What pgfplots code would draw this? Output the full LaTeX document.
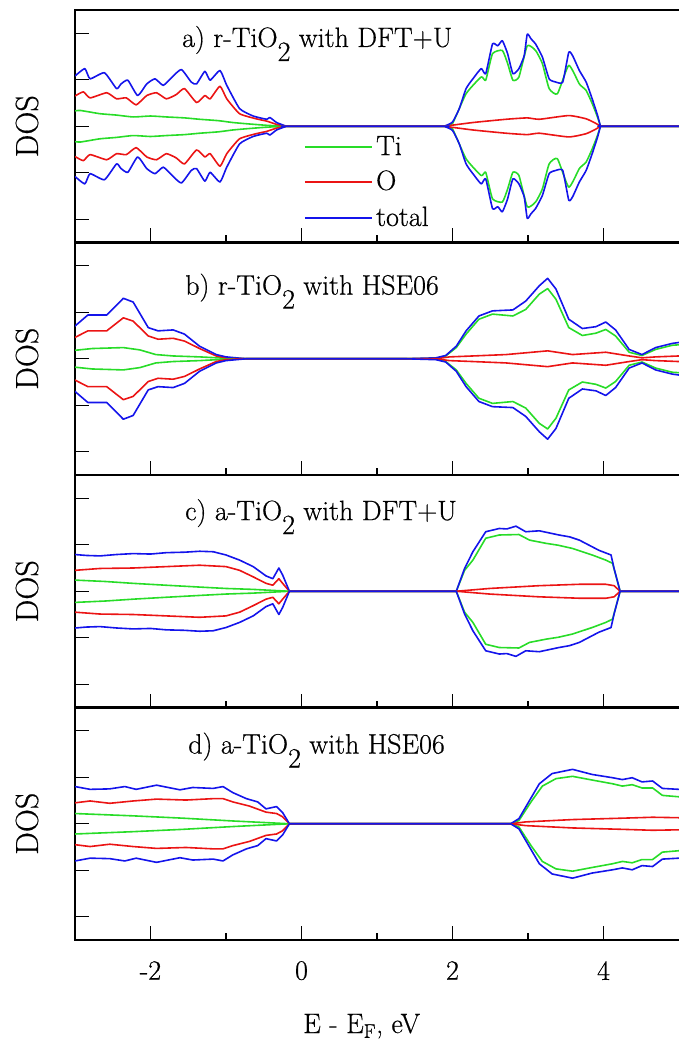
\documentclass[border=0pt]{standalone}
\usepackage{pgfplots}
\pgfplotsset{compat=1.18}
\usepackage{pgfplotstable}
\usepackage{fontspec}
\newfontfamily\lmr{lmroman17-regular.otf}[FakeBold=0.5]
\definecolor{dosgreen}{RGB}{40,220,40}
\definecolor{dosred}{RGB}{235,20,20}
\definecolor{dosblue}{RGB}{20,20,235}

% ---------- panel a ----------
\pgfplotstableread{
x y
-3.00 0.33
-2.93 0.34
-2.67 0.27
-2.45 0.24
-2.23 0.20
-2.00 0.22
-1.79 0.20
-1.55 0.18
-1.35 0.15
-1.10 0.12
-0.91 0.08
-0.70 0.05
-0.46 0.02
-0.20 0
-0.19 0
1.88 0
1.89 0
2.00 0.06
2.18 0.70
2.38 1.06
2.44 0.99
2.53 1.56
2.66 1.63
2.73 1.35
2.80 0.99
2.88 1.06
2.99 1.73
3.10 1.63
3.19 1.35
3.28 0.81
3.39 0.70
3.54 1.31
3.68 0.91
3.77 0.77
3.85 0.49
3.92 0.20
3.96 0
3.97 0
5.00 0
}\Ati
\pgfplotstableread{
x y
-3.00 0.65
-2.89 0.74
-2.80 0.61
-2.58 0.72
-2.45 0.59
-2.32 0.61
-2.19 0.46
-2.05 0.66
-1.92 0.72
-1.79 0.59
-1.66 0.68
-1.55 0.81
-1.39 0.51
-1.28 0.66
-1.21 0.59
-1.08 0.86
-0.99 0.59
-0.82 0.27
-0.60 0.16
-0.46 0.11
-0.33 0.04
-0.20 0
-0.19 0
1.88 0
1.89 0
2.27 0.08
2.71 0.15
2.99 0.18
3.15 0.15
3.54 0.23
3.77 0.16
3.90 0.06
3.96 0
3.97 0
5.00 0
}\Ao
\pgfplotstableread{
x y
-3.00 1.08
-2.87 1.24
-2.80 1.02
-2.61 1.15
-2.45 0.81
-2.39 0.91
-2.30 0.99
-2.17 0.66
-2.05 0.91
-1.94 1.02
-1.83 0.88
-1.70 1.08
-1.59 1.22
-1.46 0.95
-1.39 0.91
-1.28 1.18
-1.21 0.99
-1.08 1.20
-0.99 0.88
-0.82 0.38
-0.64 0.22
-0.46 0.15
-0.42 0.19
-0.33 0.08
-0.20 0
-0.19 0
1.88 0
1.89 0
2.00 0.09
2.09 0.38
2.18 0.81
2.27 1.02
2.38 1.24
2.44 1.13
2.53 1.77
2.60 1.73
2.66 1.84
2.73 1.56
2.80 1.13
2.88 1.24
2.95 1.52
2.99 1.98
3.04 1.88
3.10 1.77
3.19 1.49
3.28 1.02
3.37 0.95
3.46 0.95
3.54 1.59
3.59 1.52
3.68 1.20
3.77 0.95
3.85 0.59
3.92 0.24
3.96 0
3.97 0
5.00 0
}\Atot

% ---------- panel b ----------
\pgfplotstableread{
x y
-3.01 0.18
-2.77 0.22
-2.36 0.24
-2.14 0.19
-1.93 0.09
-1.70 0.06
-1.35 0.04
-1.00 0.01
-0.91 0
1.78 0
1.91 0.06
2.05 0.24
2.18 0.53
2.35 0.85
2.53 0.96
2.80 0.92
2.97 1.06
3.15 1.39
3.26 1.51
3.37 1.28
3.54 0.67
3.72 0.50
3.90 0.55
4.03 0.63
4.16 0.49
4.34 0.14
4.51 0.07
4.69 0.20
4.91 0.29
5.00 0.30
}\Bti
\pgfplotstableread{
x y
-3.01 0.45
-2.83 0.60
-2.58 0.60
-2.36 0.88
-2.23 0.81
-2.03 0.49
-1.90 0.42
-1.70 0.44
-1.55 0.38
-1.35 0.22
-1.13 0.06
-1.00 0.02
-0.82 0
1.78 0
1.96 0.04
2.27 0.06
2.71 0.09
3.26 0.17
3.59 0.09
4.03 0.14
4.34 0.06
4.51 0.02
4.69 0.04
5.00 0.06
}\Bo
\pgfplotstableread{
x y
-3.01 0.69
-2.83 0.94
-2.58 0.94
-2.36 1.30
-2.23 1.22
-2.03 0.67
-1.90 0.60
-1.70 0.62
-1.55 0.53
-1.35 0.27
-1.13 0.09
-1.00 0.04
-0.73 0
1.38 0
1.78 0.02
1.91 0.07
2.05 0.27
2.18 0.60
2.35 0.92
2.53 1.03
2.80 1.05
2.97 1.24
3.15 1.57
3.26 1.73
3.37 1.50
3.54 0.85
3.72 0.65
3.90 0.69
4.03 0.79
4.16 0.62
4.34 0.20
4.51 0.09
4.69 0.24
4.91 0.33
5.00 0.35
}\Btot

% ---------- panel c ----------
\pgfplotstableread{
x y
-3.00 0.24
-2.60 0.21
-2.23 0.17
-1.80 0.13
-1.35 0.09
-1.00 0.06
-0.64 0.04
-0.16 0
2.05 0
2.16 0.45
2.27 0.67
2.44 1.14
2.62 1.21
2.88 1.22
3.02 1.10
3.24 1.03
3.40 0.99
3.59 0.92
3.85 0.78
4.03 0.67
4.12 0.60
4.22 0
5.00 0
}\Cti
\pgfplotstableread{
x y
-3.00 0.45
-2.67 0.49
-2.23 0.50
-1.79 0.53
-1.35 0.56
-1.00 0.53
-0.82 0.45
-0.64 0.31
-0.47 0.17
-0.38 0.13
-0.30 0.27
-0.25 0.17
-0.16 0
2.05 0
2.49 0.06
3.15 0.12
3.68 0.15
4.03 0.15
4.14 0.12
4.22 0
5.00 0
}\Co
\pgfplotstableread{
x y
-3.00 0.79
-2.85 0.77
-2.67 0.76
-2.45 0.79
-2.23 0.81
-2.00 0.80
-1.79 0.83
-1.55 0.84
-1.35 0.86
-1.17 0.85
-1.00 0.78
-0.82 0.67
-0.64 0.53
-0.47 0.33
-0.38 0.27
-0.30 0.50
-0.25 0.35
-0.16 0
2.05 0
2.16 0.49
2.27 0.85
2.44 1.28
2.62 1.35
2.72 1.34
2.84 1.40
2.97 1.28
3.15 1.30
3.41 1.21
3.55 1.17
3.68 1.10
3.94 0.88
4.10 0.78
4.14 0.49
4.22 0
5.00 0
}\Ctot

% ---------- panel d ----------
\pgfplotstableread{
x y
-3.00 0.22
-2.23 0.17
-1.57 0.12
-0.91 0.06
-0.16 0
2.77 0
2.88 0.07
3.04 0.47
3.19 0.81
3.37 0.97
3.59 1.02
3.85 0.94
4.12 0.86
4.25 0.81
4.38 0.84
4.51 0.77
4.65 0.77
4.78 0.61
5.00 0.58
}\Dti
\pgfplotstableread{
x y
-3.00 0.45
-2.80 0.49
-2.54 0.44
-2.23 0.49
-1.92 0.53
-1.53 0.51
-1.17 0.54
-1.04 0.54
-0.91 0.47
-0.69 0.38
-0.47 0.25
-0.33 0.22
-0.25 0.15
-0.16 0
2.77 0
2.97 0.04
3.59 0.09
4.25 0.12
4.65 0.14
5.00 0.13
}\Do
\pgfplotstableread{
x y
-3.00 0.80
-2.80 0.74
-2.54 0.75
-2.34 0.80
-2.19 0.74
-1.92 0.83
-1.61 0.73
-1.44 0.78
-1.17 0.76
-1.04 0.80
-0.91 0.67
-0.73 0.54
-0.58 0.47
-0.47 0.32
-0.33 0.37
-0.25 0.24
-0.16 0
2.77 0
2.88 0.11
3.02 0.50
3.15 0.86
3.32 1.08
3.59 1.17
3.85 1.06
4.12 0.99
4.25 0.95
4.38 0.99
4.51 0.90
4.65 0.92
4.78 0.76
5.00 0.74
}\Dtot

\newcommand{\dosplots}[4][]{%
  \addplot[dosgreen,forget plot,#1] table[x=x,y=y]{#2};
  \addplot[dosred,forget plot,#1] table[x=x,y=y]{#3};
  \addplot[dosblue,forget plot,#1] table[x=x,y=y]{#4};
  \addplot[dosgreen,forget plot,#1] table[x=x,y expr=-\thisrow{y}]{#2};
  \addplot[dosred,forget plot,#1] table[x=x,y expr=-\thisrow{y}]{#3};
  \addplot[dosblue,forget plot,#1] table[x=x,y expr=-\thisrow{y}]{#4};
}
\newcommand{\txt}{\lmr\fontsize{28bp}{33bp}\selectfont}

\begin{document}
\begin{tikzpicture}[font=\lmr]
\pgfplotsset{
  dospanel/.style={
    scale only axis, width=608bp, height=232.5bp,
    xmin=-3, xmax=5.053, ymin=-2.5, ymax=2.5,
    xtick={-2,0,2,4}, minor xtick={-1,1,3},
    ytick={-2,-1,0,1,2}, yticklabels={},
    tick pos=left, tick align=inside,
    major tick length=14bp, minor tick length=7bp,
    axis line style={line width=2.2bp},
    every tick/.style={line width=1.4bp, black},
    every axis plot/.append style={line width=1.6bp, line join=round, mark=none},
    ylabel={DOS},
    ylabel style={at={(axis description cs:-0.0789,0.5)}, anchor=center, font=\lmr\fontsize{32bp}{37bp}\selectfont},
    tick label style={font=\txt},
  },
}
\begin{axis}[dospanel, at={(75bp,-10bp)}, anchor=north west, xticklabels={}]
\dosplots[smooth,tension=0.3]{\Ati}{\Ao}{\Atot}
\draw[dosgreen, line width=1.6bp] (rel axis cs:0.378,0.412) -- (rel axis cs:0.4885,0.412);
\draw[dosred, line width=1.6bp] (rel axis cs:0.378,0.260) -- (rel axis cs:0.4885,0.260);
\draw[dosblue, line width=1.6bp] (rel axis cs:0.378,0.105) -- (rel axis cs:0.4885,0.105);
\node[anchor=base west, inner sep=0pt] at (rel axis cs:0.495,0.376) {\txt Ti};
\node[anchor=base west, inner sep=0pt] at (rel axis cs:0.495,0.226) {\txt O};
\node[anchor=base west, inner sep=0pt] at (rel axis cs:0.495,0.071) {\txt total};
\node[anchor=base west, inner sep=0pt] at (rel axis cs:0.176,0.841) {\txt a) r-TiO\raisebox{-14bp}{2} with DFT+U};
\end{axis}
\begin{axis}[dospanel, at={(75bp,-242.5bp)}, anchor=north west, xticklabels={}]
\dosplots{\Bti}{\Bo}{\Btot}
\node[anchor=base west, inner sep=0pt] at (rel axis cs:0.181,0.776) {\txt b) r-TiO\raisebox{-14bp}{2} with HSE06};
\end{axis}
\begin{axis}[dospanel, at={(75bp,-475bp)}, anchor=north west, xticklabels={}]
\dosplots{\Cti}{\Co}{\Ctot}
\node[anchor=base west, inner sep=0pt] at (rel axis cs:0.181,0.806) {\txt c) a-TiO\raisebox{-14bp}{2} with DFT+U};
\end{axis}
\begin{axis}[dospanel, at={(75bp,-707.5bp)}, anchor=north west,
  xticklabels={-2,0,2,4},
  xticklabel style={inner sep=0pt, yshift=-21bp},
  xlabel={E - E\textsubscript{F}, eV},
  xlabel style={at={(axis description cs:0.4715,0)}, anchor=base, yshift=-93bp, font=\txt},
]
\dosplots{\Dti}{\Do}{\Dtot}
\node[anchor=base west, inner sep=0pt] at (rel axis cs:0.186,0.802) {\txt d) a-TiO\raisebox{-14bp}{2} with HSE06};
\end{axis}
\pgfresetboundingbox
\useasboundingbox (0bp,-1048bp) rectangle (679bp,0bp);
\end{tikzpicture}
\end{document}
